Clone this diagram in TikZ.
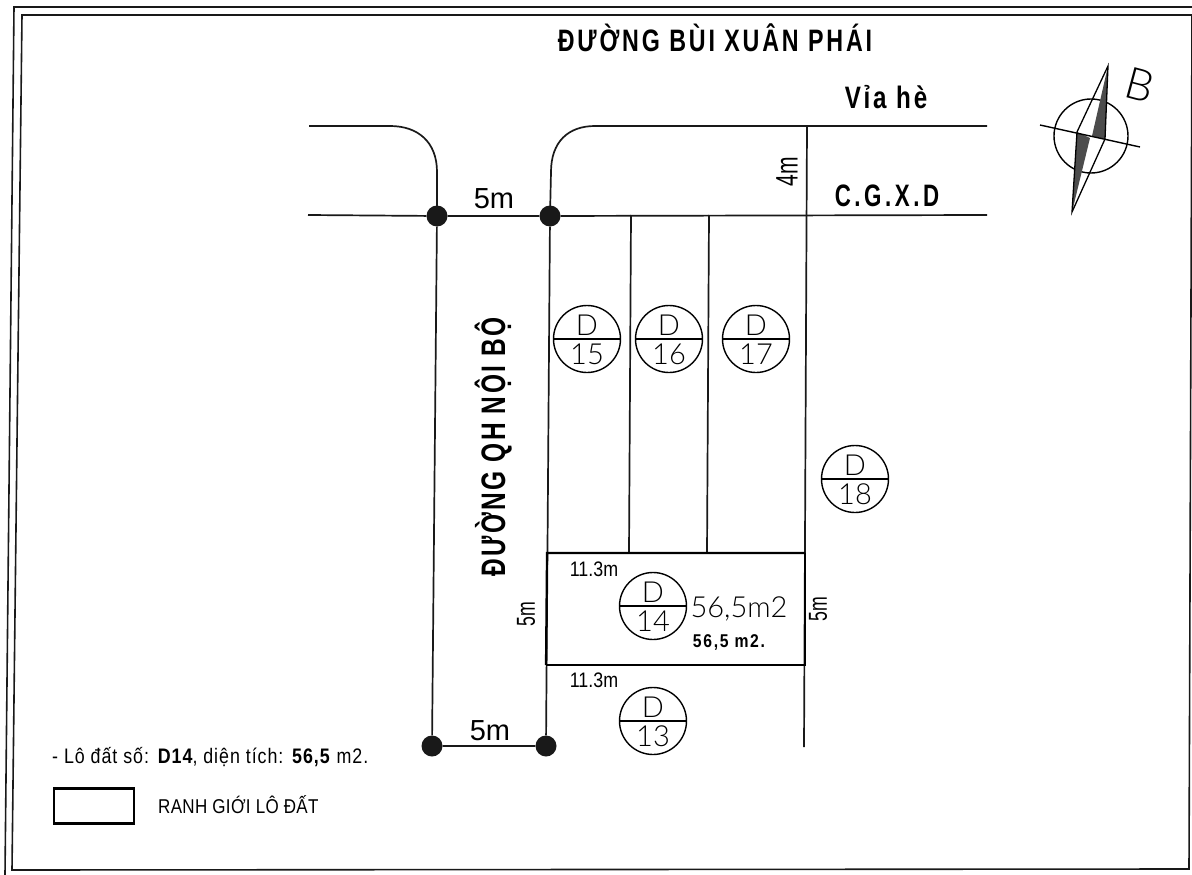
\documentclass[tikz,border=0pt]{standalone}
\usepackage{fontspec}
\setmainfont{Liberation Sans}
\newfontfamily\nrw[FakeStretch=0.85]{Liberation Sans}
\newfontfamily\nrww[FakeStretch=0.68]{Liberation Sans}
\newfontfamily\titlef[FakeStretch=0.75,LetterSpace=9.2]{Liberation Sans}
\newfontfamily\viaf[FakeStretch=0.78,LetterSpace=9]{Liberation Sans}
\newfontfamily\cgf[FakeStretch=0.72,LetterSpace=11.5]{Liberation Sans}
\newfontfamily\roadf[FakeStretch=0.72,LetterSpace=7]{Liberation Sans}
\newfontfamily\legsp[FakeStretch=0.85,LetterSpace=4.5]{Liberation Sans}
\newfontfamily\smsp[FakeStretch=0.85,LetterSpace=9]{Liberation Sans}
\newfontfamily\capsp[FakeStretch=0.85,LetterSpace=1.7]{Liberation Sans}
\newfontfamily\thinf{Lato Light}
\usetikzlibrary{calc}
\tikzset{
  x=1pt,y=-1pt,
  road/.style={line width=1.7pt,black!90},
  heavy/.style={line width=2.6pt,black},
  frameline/.style={line width=1.6pt,black!90},
  junction/.style={circle,fill=black!90,inner sep=0pt,minimum size=21pt},
  lotmark/.style={circle,draw,line width=1.4pt,inner sep=0pt,minimum size=67pt},
  lottxt/.style={inner sep=0pt,font=\thinf\fontsize{29}{29}\selectfont},
  lbl/.style={inner sep=0pt,text=black},
}
\newcommand{\lotsign}[4]{% name, x, y, number
  \node[lotmark] (#1) at (#2,#3) {};
  \draw[line width=1.2pt] (#1.west) -- (#1.east);
  \node[lottxt] (#1d) at ($(#1)+(0,-14)$) {D};
  \node[lottxt] (#1n) at ($(#1)+(0,15)$) {#4};
}
\begin{document}
\begin{tikzpicture}
\useasboundingbox (0,0) rectangle (1192,875);
% frames
\coordinate (oa) at (14,7); \coordinate (ob) at (5,875); \coordinate (oc) at (1192,7);
\coordinate (ia) at (22,15); \coordinate (ib) at (12,870); \coordinate (ic) at (1189,869); \coordinate (id) at (1192,15);
\draw[frameline] (ob) -- (oa) -- (oc);
\draw[frameline] (id) -- (ia) -- (ib) -- (ic) -- (id);
% junctions
\node[junction] (j1) at (437,216) {};
\node[junction] (j2) at (550,216) {};
\node[junction] (j3) at (432,746) {};
\node[junction] (j4) at (546,746) {};
% road lines
\coordinate (cl) at (308,215); \coordinate (cr) at (987,215);
\coordinate (vl) at (309,126); \coordinate (vr) at (987,126);
\coordinate (v1) at (595,126);
\coordinate (t1) at (631,215); \coordinate (b1) at (629,553);
\coordinate (t2) at (709,215); \coordinate (b2) at (707,553);
\coordinate (t3) at (807,126); \coordinate (b3) at (804,747);
\coordinate (ra) at (547,553); \coordinate (rb) at (805,553); \coordinate (rc) at (805,665); \coordinate (rd) at (546,665);
\draw[road] (cl) -- (j1) -- (j2) -- (cr);
\draw[road] (j2) -- (j4) -- (j3) -- (j1);
\draw[road] (j1.center) -- (437,172) .. controls (437,142) and (418,126) .. (390,126) -- (vl);
\draw[road] (j2.center) -- (551,172) .. controls (551,142) and (568,126) .. (v1) -- (vr);
\draw[road] (t1) -- (b1);
\draw[road] (t2) -- (b2);
\draw[road] (t3) -- (b3);
\draw[heavy] (rd) -- (rc) -- (rb);
\draw[line width=2.2pt] (rb) -- (ra) -- (rd);
% lot signs
\lotsign{c15}{587}{339}{15}
\lotsign{c16}{669}{339}{16}
\lotsign{c17}{756}{339}{17}
\lotsign{c18}{855}{479}{18}
\lotsign{c14}{653}{606}{14}
\lotsign{c13}{653}{721}{13}
% texts
\node[lbl,anchor=base,font=\titlef\bfseries\fontsize{31}{31}\selectfont] (title) at (715,52) {ĐƯỜNG BÙI XUÂN PHÁI};
\node[lbl,anchor=base,font=\viaf\bfseries\fontsize{31}{31}\selectfont] (via) at (886,109) {Vỉa hè};
\node[lbl,anchor=base,font=\cgf\bfseries\fontsize{31}{31}\selectfont] (cgxd) at (887,206) {C.G.X.D};
\node[lbl,font=\fontsize{29}{29}\selectfont] (m1) at (494,199) {5m};
\node[lbl,font=\fontsize{29}{29}\selectfont] (m2) at (490,731) {5m};
\node[lbl,rotate=90,font=\nrww\fontsize{31}{31}\selectfont] (m3) at (787,172) {4m};
\node[lbl,rotate=90,font=\nrww\fontsize{26}{26}\selectfont] (m4) at (526,614) {5m};
\node[lbl,rotate=90,font=\nrww\fontsize{26}{26}\selectfont] (m5) at (818,609) {5m};
\node[lbl,rotate=90,anchor=base,font=\roadf\bfseries\fontsize{34}{34}\selectfont] (qh) at (505,447) {ĐƯỜNG QH NỘI BỘ};
\node[lbl,anchor=base,font=\nrw\fontsize{21}{21}\selectfont] (w1) at (594,576) {11.3m};
\node[lbl,anchor=base,font=\nrw\fontsize{21}{21}\selectfont] (w2) at (594,687) {11.3m};
\node[lbl,anchor=base,font=\thinf\fontsize{29}{29}\selectfont] (a1) at (739,617) {56,5m2};
\node[lbl,anchor=base,font=\smsp\bfseries\fontsize{18.5}{18.5}\selectfont] (a2) at (729,647) {56,5 m2.};
\node[lbl,anchor=base west,font=\legsp\fontsize{21}{21}\selectfont] (leg) at (52,763) {- Lô đất số: \textbf{D14}, diện tích: \textbf{56,5} m2.};
\node[draw,line width=2.4pt,minimum width=80pt,minimum height=35pt,inner sep=0pt] (box) at (94,806) {};
\node[lbl,anchor=base west,font=\capsp\fontsize{20}{20}\selectfont] (leg2) at (158,813) {RANH GIỚI LÔ ĐẤT};
% north arrow
\node[circle,draw,line width=1.4pt,inner sep=0pt,minimum size=74pt] (nc) at (1091,136) {};
\coordinate (nw) at (1040,125); \coordinate (ne) at (1140,147);
\coordinate (ntop) at (1108,66); \coordinate (nbot) at (1072,212);
\coordinate (nl) at (1077,132); \coordinate (nr) at (1105,139);
\coordinate (nm1) at (1092,136); \coordinate (nm2) at (1090,138);
\fill[black!70] (ntop) -- (nr) -- (nm1) -- cycle;
\fill[black!70] (nbot) -- (nl) -- (nm2) -- cycle;
\draw[line width=1.4pt] (nw) -- (ne);
\draw[line width=1.3pt,line join=miter] (ntop) -- (nl) -- (nbot) -- (nr) -- cycle;
\node[lbl,rotate=-15,font=\thinf\fontsize{44}{44}\selectfont] (nb) at (1140,85) {B};
\end{tikzpicture}
\end{document}
